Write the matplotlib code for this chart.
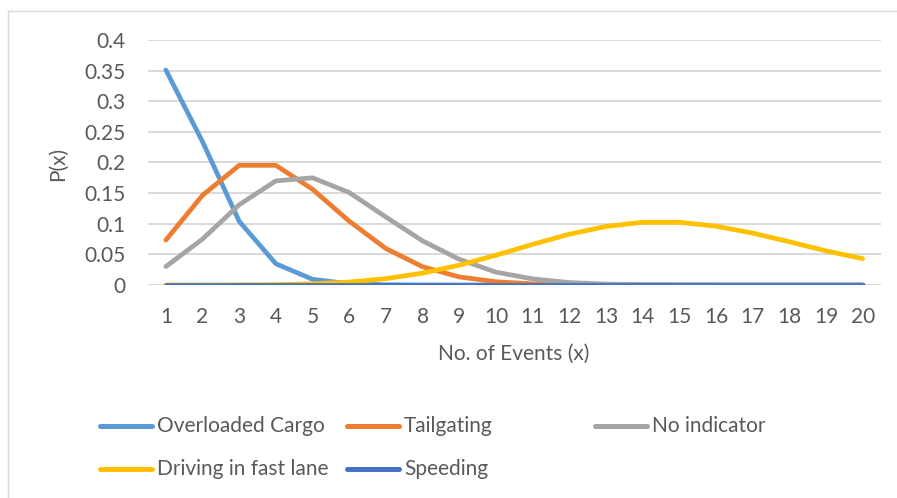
"""
Probability of number of events per offence type
"""

import matplotlib.pyplot as plt
from matplotlib.lines import Line2D

plt.rcParams["font.family"] = ["Lato", "DejaVu Sans"]

# data
events = list(range(1, 21))
overloaded_cargo = [0.351, 0.234, 0.104, 0.0347, 0.0093, 0.0021, 0.0004, 0.0001, 0, 0,
                    0, 0, 0, 0, 0, 0, 0, 0, 0, 0]
tailgating = [0.0733, 0.1465, 0.1954, 0.1954, 0.1563, 0.1042, 0.0595, 0.0298, 0.0132, 0.0053,
              0.0019, 0.0006, 0.0002, 0.0001, 0, 0, 0, 0, 0, 0]
no_indicator = [0.030, 0.075, 0.131, 0.170, 0.175, 0.151, 0.111, 0.072, 0.042, 0.021,
                0.010, 0.004, 0.0015, 0.0005, 0.0002, 0, 0, 0, 0, 0]
fast_lane = [0, 0, 0.0002, 0.0006, 0.0019, 0.0048, 0.0104, 0.0194, 0.0324, 0.0486,
             0.0663, 0.0829, 0.0956, 0.1024, 0.1024, 0.0960, 0.0847, 0.0706, 0.0557, 0.0430]
speeding = [0] * 20

series = [
    ("Overloaded Cargo", overloaded_cargo, "#5B9BD5"),
    ("Tailgating", tailgating, "#ED7D31"),
    ("No indicator", no_indicator, "#A5A5A5"),
    ("Driving in fast lane", fast_lane, "#FFC000"),
    ("Speeding", speeding, "#4472C4"),
]

W, H = 897, 498
txt = "#595959"
fs = 15

fig = plt.figure(figsize=(W / 100, H / 100), dpi=100)
ax = fig.add_axes([147.5 / W, (H - 285) / H, (881 - 147.5) / W, (285 - 40) / H])

for name, vals, col in series:
    ax.plot(events, vals, color=col, lw=3.4, solid_capstyle="round", solid_joinstyle="round",
            label=name)

ax.set_xlim(0.5, 20.5)
ax.set_ylim(0, 0.4)
ax.set_xticks(events)
ax.set_yticks([0, 0.05, 0.1, 0.15, 0.2, 0.25, 0.3, 0.35, 0.4])
ax.set_yticklabels(["0", "0.05", "0.1", "0.15", "0.2", "0.25", "0.3", "0.35", "0.4"])
ax.tick_params(length=0, labelsize=fs, labelcolor=txt)
ax.tick_params(axis="x", pad=16)
ax.tick_params(axis="y", pad=16)
ax.grid(axis="y", color="#D9D9D9", lw=1.4)
ax.set_axisbelow(True)
for s in ax.spines.values():
    s.set_visible(False)

fig.text(514 / W, 1 - 354 / H, "No. of Events (x)", ha="center", va="center",
         fontsize=fs, color=txt)
fig.text(58 / W, 1 - 164 / H, "P(x)", ha="center", va="center", rotation=90,
         fontsize=fs, color=txt)

# legend, laid out like the Excel one
spots = [(100, 426), (347, 426), (595, 426), (100, 469), (347, 469)]
for (name, vals, col), (x0, y0) in zip(series, spots):
    yf = 1 - y0 / H
    fig.add_artist(Line2D([x0 / W, (x0 + 52) / W], [yf, yf], color=col, lw=3.6,
                          solid_capstyle="round"))
    fig.text((x0 + 57) / W, yf, name, ha="left", va="center", fontsize=fs, color=txt)

# chart area border
fig.add_artist(Line2D([8 / W, 8 / W], [0, 1 - 11 / H], color="#D9D9D9", lw=1))
fig.add_artist(Line2D([8 / W, 1], [1 - 11 / H, 1 - 11 / H], color="#D9D9D9", lw=1))

fig.savefig("out.png", dpi=100)
